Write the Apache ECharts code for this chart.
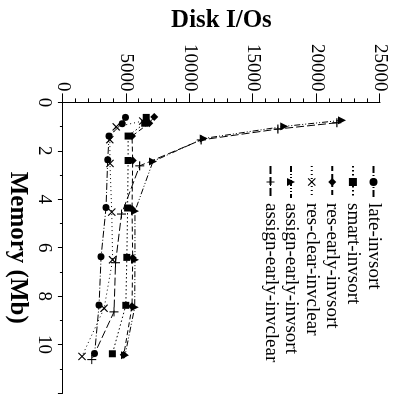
<!DOCTYPE html>
<html>
<head>
<meta charset="utf-8">
<script src="https://cdn.jsdelivr.net/npm/echarts@6/dist/echarts.min.js"></script>
<style>
  html, body { margin: 0; padding: 0; background: #fff; overflow: hidden; }
  /* The plot is laid out landscape and turned a quarter turn clockwise. */
  #wrap {
    position: absolute; left: 0; top: 0;
    width: 396px; height: 395px;
    transform-origin: 0 0;
    transform: translate(395px, 0) rotate(90deg);
  }
  #chart { width: 396px; height: 395px; }
</style>
</head>
<body>
<div id="wrap"><div id="chart"></div></div>
<script>
// Memory (Mb) and disk I/O counts for each strategy
const seriesNames = ['late-invsort', 'smart-invsort', 'res-early-invsort',
  'res-clear-invclear', 'assign-early-invsort', 'assign-early-invclear'];

const lateMem = [0.62, 0.88, 1.39, 2.37, 4.34, 6.37, 8.37, 10.37];
const lateIO  = [4930, 4670, 3640, 3530, 3400, 3010, 2850, 2500];

const smartMem = [0.62, 0.86, 1.39, 2.40, 4.36, 6.40, 8.38, 10.38];
const smartIO  = [6570, 6450, 5140, 5140, 5100, 5040, 4960, 3900];

const resEarlyMem = [0.60, 0.86, 1.39, 2.40, 4.40, 6.42, 8.42, 10.42];
const resEarlyIO  = [7200, 6800, 5450, 5500, 5450, 5500, 5450, 4800];

const resClearMem = [0.77, 1.01, 1.54, 2.52, 4.53, 6.50, 8.50, 10.49];
const resClearIO  = [6300, 4200, 3700, 3710, 3850, 3920, 3250, 1500];

const assignSortMem = [0.74, 0.99, 1.49, 2.44, 4.49, 6.50, 8.46, 10.44];
const assignSortIO  = [22000, 17450, 11100, 7100, 5680, 5680, 5660, 4900];

const assignClearMem = [0.84, 1.10, 1.55, 2.62, 4.61, 6.62, 8.65, 10.62];
const assignClearIO  = [21600, 16950, 10900, 6050, 4620, 4150, 4030, 2280];

const memTicks = [0, 2, 4, 6, 8, 10];
const ioTicks = [0, 5000, 10000, 15000, 20000, 25000];

const FONT = '"Liberation Serif", serif';
const CROSS = 'path://M0,1L1,0L5,4L9,0L10,1L6,5L10,9L9,10L5,6L1,10L0,9L4,5Z';
const PLUS = 'path://M4.4,0H5.6V4.4H10V5.6H5.6V10H4.4V5.6H0V4.4H4.4Z';

function pairs(xs, ys) { return xs.map((x, i) => [x, ys[i]]); }

function line(name, xs, ys, symbol, size, dash) {
  return {
    name, type: 'line', data: pairs(xs, ys),
    symbol, symbolSize: size, showSymbol: true, showAllSymbol: true,
    itemStyle: { color: '#000' },
    lineStyle: { color: '#000', width: 1, type: dash },
    emphasis: { disabled: true }, animation: false
  };
}

const chart = echarts.init(document.getElementById('chart'), null, { renderer: 'canvas' });
chart.setOption({
  backgroundColor: '#fff',
  animation: false,
  textStyle: { fontFamily: FONT },
  grid: { left: 99, right: -27, top: 15, bottom: 59 },
  legend: {
    orient: 'vertical', left: 165, top: 12, padding: 0,
    itemWidth: 32, itemHeight: 10, itemGap: 1.6,
    textStyle: { fontFamily: FONT, fontSize: 19, color: '#000', lineHeight: 19 },
    data: seriesNames
  },
  xAxis: {
    type: 'value', min: 0, max: 12, interval: 2,
    name: 'Memory (Mb)', nameLocation: 'middle', nameGap: 21,
    nameTextStyle: { fontFamily: FONT, fontSize: 25, fontWeight: 'bold', color: '#000' },
    axisLine: { show: true, lineStyle: { color: '#000', width: 1 } },
    axisTick: { show: true, length: 5, lineStyle: { color: '#000' } },
    minorTick: { show: true, splitNumber: 2, length: 3, lineStyle: { color: '#000' } },
    axisLabel: { fontFamily: FONT, fontSize: 19, color: '#000', margin: 9,
      formatter: v => memTicks.includes(v) ? String(v) : '' },
    splitLine: { show: false }
  },
  yAxis: {
    type: 'value', min: 0, max: 25000, interval: 5000,
    name: 'Disk I/Os', nameLocation: 'middle', nameGap: 61,
    nameTextStyle: { fontFamily: FONT, fontSize: 25, fontWeight: 'bold', color: '#000' },
    axisLine: { show: true, lineStyle: { color: '#000', width: 1 } },
    axisTick: { show: true, length: 9, lineStyle: { color: '#000' } },
    minorTick: { show: true, splitNumber: 5, length: 4, lineStyle: { color: '#000' } },
    axisLabel: { fontFamily: FONT, fontSize: 19, color: '#000', margin: 11,
      formatter: v => ioTicks.includes(v) ? String(v) : '' },
    splitLine: { show: false }
  },
  series: [
    line(seriesNames[0], lateMem, lateIO, 'circle', 7, [7, 2, 1, 2]),
    line(seriesNames[1], smartMem, smartIO, 'rect', 7, [1.5, 2.5]),
    line(seriesNames[2], resEarlyMem, resEarlyIO, 'diamond', 8, [5, 3]),
    line(seriesNames[3], resClearMem, resClearIO, CROSS, 8, [1, 3]),
    line(seriesNames[4], assignSortMem, assignSortIO, 'triangle', 8, [6, 2, 1, 2, 1, 2]),
    line(seriesNames[5], assignClearMem, assignClearIO, PLUS, 9, [8, 3])
  ]
});
</script>
</body>
</html>
